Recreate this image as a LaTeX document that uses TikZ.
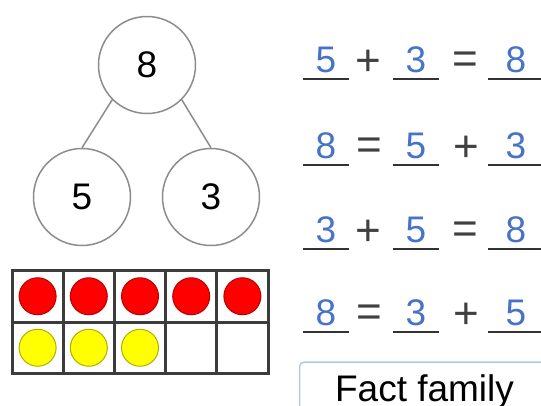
\documentclass[tikz,border=0pt]{standalone}
\usepackage{fontspec}
\setmainfont{Liberation Sans}
\usetikzlibrary{positioning}
\definecolor{bondgray}{RGB}{140, 140, 140}
\definecolor{framegray}{RGB}{60, 60, 60}
\definecolor{numblue}{RGB}{70, 115, 200}
\definecolor{dotred}{RGB}{255, 0, 0}
\definecolor{dotredline}{RGB}{185, 0, 0}
\definecolor{dotyellow}{RGB}{255, 255, 0}
\definecolor{dotyellowline}{RGB}{175, 175, 0}
\definecolor{factblue}{RGB}{180, 198, 231}
\tikzset{
  bond/.style      = {circle, draw=bondgray, line width=1.5pt, minimum size=97pt, inner sep=0pt, font=\fontsize{37}{40}\selectfont},
  link/.style      = {draw=bondgray, line width=1.5pt},
  cell/.style      = {rectangle, draw=framegray, line width=3pt, minimum width=51.2pt, minimum height=51.5pt, inner sep=0pt},
  reddot/.style    = {circle, fill=dotred, draw=dotredline, line width=1pt, minimum size=37pt, inner sep=0pt},
  yellowdot/.style = {circle, fill=dotyellow, draw=dotyellowline, line width=1pt, minimum size=37pt, inner sep=0pt},
  blank/.style     = {rectangle, inner sep=0pt, minimum width=46pt, text depth=7pt, anchor=base, text=numblue, font=\fontsize{37}{40}\selectfont},
  blankend/.style  = {blank, minimum width=56pt},
  op/.style        = {inner sep=0pt, text=black!75, font=\fontsize{44}{48}\selectfont},
  uline/.style     = {draw=black!80, line width=2.5pt},
}

\begin{document}
\begin{tikzpicture}[
    x=1pt, y=-1pt,
    factbox/.style={rectangle, rounded corners=5pt, draw=factblue, line width=1.5pt, anchor=base, minimum width=250pt, text height=30pt, text depth=40pt, inner ysep=9pt, font=\fontsize{37}{40}\selectfont}
]
\useasboundingbox (0,0) rectangle (541,405);

% ================= Number bond =================
\node (whole) [bond] at (147, 65)  {8};
\node (partA) [bond] at (82, 197)  {5};
\node (partB) [bond] at (211, 197) {3};

\draw [link] (whole.225) -- (partA.north);
\draw [link] (whole.-45) -- (partB.north);

% ================= Ten frame =================
\node (cellA1) [cell] at (37.6, 296.25)  {};
\node (cellA2) [cell] at (88.8, 296.25)  {};
\node (cellA3) [cell] at (140.0, 296.25) {};
\node (cellA4) [cell] at (191.2, 296.25) {};
\node (cellA5) [cell] at (242.4, 296.25) {};
\node (cellB1) [cell] at (37.6, 347.75)  {};
\node (cellB2) [cell] at (88.8, 347.75)  {};
\node (cellB3) [cell] at (140.0, 347.75) {};
\node (cellB4) [cell] at (191.2, 347.75) {};
\node (cellB5) [cell] at (242.4, 347.75) {};

\node (red1) [reddot] at (cellA1) {};
\node (red2) [reddot] at (cellA2) {};
\node (red3) [reddot] at (cellA3) {};
\node (red4) [reddot] at (cellA4) {};
\node (red5) [reddot] at (cellA5) {};
\node (yellow1) [yellowdot] at (cellB1) {};
\node (yellow2) [yellowdot] at (cellB2) {};
\node (yellow3) [yellowdot] at (cellB3) {};

% ================= Fact family: row 1 =================
\node (b11) [blank]    at (326, 72) {5};
\node (o11) [op]       at (368, 63) {+};
\node (b12) [blank]    at (416, 72) {3};
\node (o12) [op]       at (465, 63) {=};
\node (b13) [blankend] at (516, 72) {8};

% ================= Fact family: row 2 =================
\node (b21) [blank]    at (326, 158) {8};
\node (o21) [op]       at (369, 149) {=};
\node (b22) [blank]    at (416, 158) {5};
\node (o22) [op]       at (466, 149) {+};
\node (b23) [blankend] at (516, 158) {3};

% ================= Fact family: row 3 =================
\node (b31) [blank]    at (326, 242) {3};
\node (o31) [op]       at (368, 233) {+};
\node (b32) [blank]    at (416, 242) {5};
\node (o32) [op]       at (465, 233) {=};
\node (b33) [blankend] at (516, 242) {8};

% ================= Fact family: row 4 =================
\node (b41) [blank]    at (326, 325) {8};
\node (o41) [op]       at (369, 316) {=};
\node (b42) [blank]    at (416, 325) {3};
\node (o42) [op]       at (466, 316) {+};
\node (b43) [blankend] at (516, 325) {5};

% underlines
\draw [uline] (b11.south west) -- (b11.south east);
\draw [uline] (b12.south west) -- (b12.south east);
\draw [uline] (b13.south west) -- (b13.south east);
\draw [uline] (b21.south west) -- (b21.south east);
\draw [uline] (b22.south west) -- (b22.south east);
\draw [uline] (b23.south west) -- (b23.south east);
\draw [uline] (b31.south west) -- (b31.south east);
\draw [uline] (b32.south west) -- (b32.south east);
\draw [uline] (b33.south west) -- (b33.south east);
\draw [uline] (b41.south west) -- (b41.south east);
\draw [uline] (b42.south west) -- (b42.south east);
\draw [uline] (b43.south west) -- (b43.south east);

% ================= Title box =================
\node (fact) [factbox] at (424.5, 401) {Fact family};

\end{tikzpicture}
\end{document}
